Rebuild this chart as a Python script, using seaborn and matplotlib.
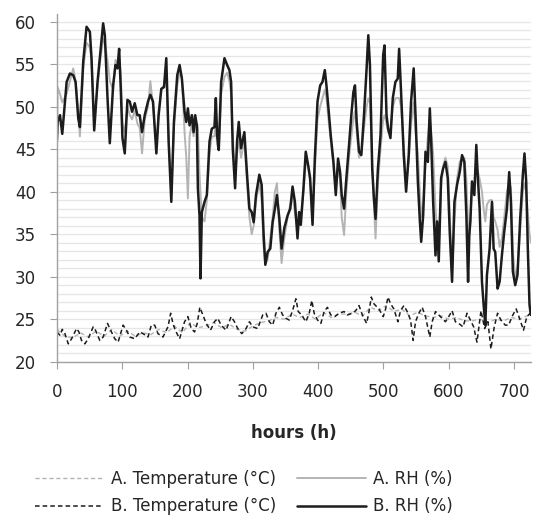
import matplotlib
matplotlib.use("Agg")
import matplotlib.pyplot as plt
from matplotlib.ticker import MultipleLocator
import seaborn as sns
import numpy as np

# B. RH (%) - black solid
rh_b_hours = [0, 1.0, 4.6, 8.1, 14.8, 19.8, 24.9, 28.5, 32.6, 35.1, 40.2, 45.3, 50.4, 52.9, 57.0,
              62.1, 65.6, 70.7, 73.3, 77.4, 80.9, 86.0, 89.6, 92.6, 95.2, 97.7, 100.3, 103.8,
              107.9, 111.5, 115.0, 119.1, 123.2, 126.7, 130.3, 134.4, 139.4, 143.0, 147.1, 152.2,
              155.7, 159.8, 163.9, 167.4, 171.0, 175.1, 179.1, 184.2, 187.8, 191.3, 195.4, 198.0,
              200.5, 203.1, 206.6, 209.2, 211.7, 214.2, 215.8, 218.3, 219.8, 221.9, 226.0, 229.5,
              233.6, 237.1, 241.2, 243.3, 245.3, 247.8, 251.4, 256.5, 260.6, 264.1, 266.7, 269.2,
              272.8, 275.8, 278.4, 281.9, 287.0, 291.1, 294.7, 298.2, 301.3, 304.8, 309.9, 313.5,
              316.5, 319.1, 322.6, 326.7, 330.3, 333.8, 336.9, 340.5, 344.0, 348.1, 353.2, 357.3,
              360.8, 364.4, 368.4, 370.9, 373.4, 377.5, 381.0, 384.7, 387.7, 391.4, 394.9, 399.0,
              403.1, 406.6, 410.2, 412.7, 415.8, 419.3, 423.4, 427.0, 430.5, 433.6, 436.1, 439.7,
              443.2, 447.3, 450.8, 453.9, 456.4, 459.0, 462.6, 466.1, 470.2, 474.2, 476.8, 479.3,
              482.8, 485.4, 487.9, 491.5, 495.5, 499.6, 501.6, 504.7, 507.2, 510.7, 514.3, 518.3,
              521.9, 524.0, 527.0, 531.1, 534.7, 538.7, 542.3, 546.3, 549.1, 552.7, 555.8, 557.8,
              560.8, 564.4, 568.0, 571.0, 573.1, 576.1, 579.7, 582.2, 584.7, 588.3, 591.3, 594.9,
              598.5, 601.5, 605.1, 608.7, 612.7, 616.8, 620.4, 623.9, 627.0, 629.6, 631.5, 633.1,
              635.6, 639.2, 642.2, 644.3, 647.3, 650.9, 653.4, 656.0, 658.5, 662.6, 666.2, 668.7,
              671.2, 674.8, 677.9, 681.4, 685.0, 689.1, 692.6, 695.2, 698.2, 701.8, 705.3, 709.4,
              713.5, 716.0, 718.6, 721.1, 723.7, 725.7]
rh_b = [46.1, 48.2, 49.0, 46.8, 52.9, 53.9, 53.7, 52.9, 48.6, 47.6, 55.3, 59.4, 58.8, 55.7, 47.2,
        52.9, 55.7, 59.8, 58.4, 51.0, 45.7, 52.5, 54.9, 54.5, 56.8, 52.1, 46.3, 44.5,
        50.8, 50.6, 49.4, 50.4, 49.0, 49.0, 47.0, 49.0, 50.6, 51.4, 50.6, 44.5,
        49.0, 52.1, 52.3, 55.7, 45.9, 38.8, 48.2, 53.7, 54.9, 53.3, 49.4, 48.2,
        49.8, 47.8, 49.0, 47.0, 49.0, 47.8, 40.4, 37.2, 29.8, 37.6, 38.8, 39.6,
        45.9, 47.4, 47.6, 51.0, 46.6, 44.9, 52.9, 55.7, 54.9, 54.3, 52.9, 45.1,
        40.4, 45.9, 48.2, 45.1, 47.0, 42.0, 38.0, 37.6, 36.4, 39.6, 42.0, 40.8,
        34.9, 31.4, 32.9, 33.3, 36.4, 38.0, 39.6, 36.9, 33.3, 35.7, 37.2, 38.0,
        40.6, 38.8, 34.5, 37.6, 36.1, 40.4, 44.7, 43.1, 41.6, 36.1, 43.9, 50.6,
        52.5, 52.9, 54.3, 52.5, 49.8, 46.6, 43.5, 39.6, 43.9, 42.3, 39.6, 38.0,
        41.6, 45.5, 49.0, 51.7, 52.5, 48.2, 44.7, 44.3, 49.0, 54.5, 58.4, 54.9,
        42.7, 39.2, 36.8, 42.7, 46.6, 56.1, 57.2, 49.0, 47.4, 46.3, 51.0, 52.9,
        53.3, 56.8, 51.7, 44.3, 40.0, 44.3, 50.6, 54.5, 49.0, 41.2, 36.5, 34.1,
        37.2, 44.7, 43.5, 49.8, 45.9, 38.8, 32.5, 36.5, 31.8, 41.6, 42.7, 43.5,
        41.6, 35.3, 29.4, 38.8, 40.8, 42.3, 44.3, 43.5, 37.2, 29.4, 34.9, 36.5,
        41.2, 39.6, 45.5, 42.0, 38.0, 29.4, 26.7, 24.3, 30.2, 33.3, 38.8, 33.3,
        32.9, 28.6, 29.4, 32.5, 35.3, 38.0, 42.3, 38.8, 30.6, 29.0, 30.2, 36.8,
        42.0, 44.5, 41.2, 33.3, 26.7, 25.5]

# A. RH (%) - grey solid, same time stamps
rh_a = [45.0, 52.3, 51.5, 50.5, 51.5, 53.0, 54.5, 53.0, 49.5, 46.5, 54.5, 57.5, 57.0, 55.5, 48.0,
        52.5, 55.0, 58.0, 57.5, 55.5, 53.0, 52.0, 55.5, 55.0, 55.5, 54.0, 48.0, 47.0,
        50.0, 49.0, 48.5, 49.5, 48.0, 47.5, 44.5, 48.5, 50.0, 53.0, 50.0, 45.5,
        49.5, 52.0, 52.5, 54.0, 46.5, 39.5, 47.5, 52.5, 54.0, 53.5, 47.0, 44.0,
        39.2, 46.5, 48.0, 46.5, 48.0, 48.0, 47.5, 42.0, 40.0, 37.0, 36.5, 39.0,
        44.5, 46.5, 46.5, 48.0, 45.5, 45.0, 51.5, 53.5, 54.0, 53.0, 51.5, 46.5,
        42.0, 44.5, 46.0, 44.0, 46.0, 41.0, 37.0, 35.0, 36.0, 39.0, 41.0, 39.0,
        33.5, 31.5, 32.0, 34.5, 37.0, 40.0, 41.0, 35.5, 31.6, 34.5, 37.0, 38.5,
        39.5, 37.5, 35.5, 36.5, 37.0, 40.0, 43.5, 43.0, 41.0, 37.0, 42.5, 48.5,
        50.0, 51.0, 52.0, 51.0, 48.5, 46.0, 43.0, 40.5, 42.5, 41.5, 37.0, 34.9,
        40.0, 44.0, 46.5, 48.5, 49.5, 47.0, 44.0, 44.5, 47.5, 50.0, 51.0, 50.5,
        43.5, 38.5, 34.5, 41.0, 45.0, 48.5, 49.0, 48.0, 47.0, 47.5, 50.0, 51.0,
        51.0, 51.0, 50.0, 45.5, 41.0, 43.5, 48.0, 50.5, 47.0, 44.5, 40.0, 37.0,
        38.5, 43.0, 46.5, 48.5, 47.0, 44.5, 38.0, 35.5, 33.5, 40.5, 43.0, 44.0,
        43.0, 37.5, 30.5, 36.5, 41.5, 43.5, 44.0, 44.0, 41.5, 36.0, 35.0, 36.5,
        40.5, 41.0, 43.5, 42.5, 41.5, 40.0, 38.0, 36.5, 38.5, 39.0, 39.0, 37.0,
        36.5, 35.5, 33.5, 34.5, 37.0, 40.0, 41.0, 40.5, 33.0, 30.0, 31.0, 35.5,
        40.0, 41.0, 40.0, 37.5, 35.0, 34.0]

# B. Temperature (°C) - black dashed
temp_b_hours = [0, 4.6, 8.1, 12.2, 17.3, 22.4, 30.0, 33.6, 37.6, 42.7, 47.8, 55.5, 59.0, 65.6,
                70.7, 77.4, 80.9, 88.5, 93.6, 101.3, 106.4, 111.5, 119.1, 126.7, 131.8, 139.4,
                144.5, 149.6, 154.7, 162.3, 170.0, 174.1, 177.6, 181.2, 187.8, 195.4, 200.5,
                205.6, 210.7, 214.8, 218.8, 223.4, 228.5, 235.1, 241.2, 246.3, 251.4, 259.0,
                266.7, 271.8, 276.8, 283.0, 289.6, 294.7, 299.8, 307.4, 315.1, 320.1, 325.2,
                330.3, 335.4, 340.5, 345.6, 350.6, 355.7, 360.8, 365.9, 369.5, 374.6, 381.2,
                386.3, 390.3, 393.9, 399.0, 404.1, 409.2, 414.2, 419.3, 425.4, 432.1, 439.7,
                444.8, 452.4, 457.5, 462.6, 467.7, 474.3, 477.9, 481.4, 485.5, 493.1, 499.7,
                503.3, 506.9, 511.0, 516.0, 522.1, 526.2, 531.3, 536.4, 541.5, 545.5, 549.1,
                554.2, 559.3, 564.4, 571.0, 574.6, 579.7, 584.7, 589.8, 594.9, 600.0, 605.1,
                610.2, 615.3, 621.9, 628.0, 633.1, 638.2, 643.2, 649.4, 655.0, 660.0, 664.6,
                669.7, 674.8, 679.9, 686.5, 691.6, 698.2, 703.3, 708.4, 714.5, 719.6, 724.7]
temp_b = [23.5, 23.1, 23.8, 23.3, 22.1, 22.7, 23.9, 23.5, 22.5, 22.1, 22.7, 24.1, 23.7, 22.5,
          22.9, 24.5, 23.9, 22.7, 22.3, 24.3, 23.7, 22.9, 22.7, 23.5, 23.3, 22.9,
          24.3, 24.3, 23.3, 22.9, 24.1, 25.7, 24.5, 23.7, 22.7, 24.7, 25.3,
          23.9, 23.5, 24.5, 26.4, 25.5, 24.5, 23.7, 24.7, 25.1, 24.3, 23.7,
          25.3, 24.7, 23.9, 23.3, 23.9, 24.7, 24.1, 23.9, 25.5, 25.7, 24.7,
          24.3, 25.7, 26.4, 25.5, 25.1, 24.9, 26.0, 27.4, 25.9, 25.5, 24.7,
          25.7, 27.2, 25.7, 24.9, 24.5, 25.9, 26.4, 25.5, 25.3, 25.7, 25.9,
          25.5, 25.7, 26.0, 26.6, 25.5, 24.5, 25.9, 27.6, 26.8, 26.2, 25.3,
          26.2, 27.6, 26.8, 26.2, 24.7, 26.0, 26.6, 25.9, 24.9, 22.5, 24.7,
          25.7, 26.4, 25.3, 22.9, 24.7, 25.9, 25.5, 25.1, 24.7, 25.3, 26.0,
          24.7, 24.5, 24.1, 25.7, 24.9, 24.1, 22.3, 26.0, 23.9, 24.7, 21.5,
          24.1, 25.7, 24.9, 24.3, 24.3, 25.5, 26.2, 25.1, 23.7, 25.3, 25.7]

# A. Temperature (°C) - grey dashed
temp_a_hours = [0, 12, 24, 36, 48, 60, 72, 84, 96, 108, 120, 132, 144, 156, 168, 180, 192, 204,
                216, 228, 240, 252, 264, 276, 288, 300, 312, 324, 336, 348, 360, 372, 384, 396,
                408, 420, 432, 444, 456, 468, 480, 492, 504, 516, 528, 540, 552, 564, 576, 588,
                600, 612, 624, 636, 648, 660, 672, 684, 696, 708, 720, 725]
temp_a = [23.8, 23.0, 22.8, 23.4, 22.9, 23.6, 23.0, 23.8, 23.0, 23.6, 23.0, 23.4, 23.2, 23.8,
          23.4, 24.2, 23.4, 24.6, 24.0, 24.2, 24.6, 24.0, 24.4, 23.8, 23.6, 24.2, 24.6, 24.8,
          25.2, 25.0, 25.6, 25.2, 25.6, 25.0, 25.8, 25.2, 25.6, 25.6, 25.8, 25.4, 26.4, 26.0,
          26.6, 25.9, 26.2, 25.4, 25.8, 25.4, 25.2, 25.4, 25.0, 25.2, 24.8, 24.8, 25.0, 24.6,
          25.0, 24.8, 25.2, 25.0, 25.4, 25.3]

GREY = "#b4b4b4"
BLACK = "#1c1c1c"

sns.set_style("white")
plt.rcParams['font.family'] = ['DejaVu Sans']

fig = plt.figure(figsize=(5.36, 5.22), dpi=100)
ax = fig.add_axes([0.1063, 0.3071, 0.8844, 0.6661])

sns.lineplot(x=temp_a_hours, y=temp_a, ax=ax, color=GREY, linewidth=1.0,
             linestyle=(0, (3, 2)), label="A. Temperature (°C)")
sns.lineplot(x=temp_b_hours, y=temp_b, ax=ax, color=BLACK, linewidth=1.1,
             linestyle=(0, (3, 2)), label="B. Temperature (°C)")
sns.lineplot(x=rh_b_hours, y=rh_a, ax=ax, color=GREY, linewidth=1.4, label="A. RH (%)")
sns.lineplot(x=rh_b_hours, y=rh_b, ax=ax, color=BLACK, linewidth=1.8, label="B. RH (%)")

ax.set_xlim(0, 726)
ax.set_ylim(20, 60.9)
ax.set_xticks(np.arange(0, 701, 100))
ax.set_yticks(np.arange(20, 61, 5))
ax.yaxis.set_minor_locator(MultipleLocator(1))
ax.grid(axis='y', which='both', color='#e6e6e6', linewidth=0.9)
ax.set_axisbelow(True)

for side in ['top', 'right']:
    ax.spines[side].set_visible(False)
for side in ['left', 'bottom']:
    ax.spines[side].set_color('#a0a0a0')
    ax.spines[side].set_linewidth(1.0)

ax.tick_params(axis='x', which='major', direction='out', length=5, color='#a0a0a0',
               labelsize=12, pad=10, bottom=True)
ax.tick_params(axis='y', which='major', direction='out', length=5, color='#a0a0a0',
               labelsize=12, pad=10, left=True)
ax.tick_params(axis='y', which='minor', length=0)

ax.set_xlabel("hours (h)", fontsize=12, fontweight='bold', labelpad=17)
ax.set_ylabel("")

handles, labels = ax.get_legend_handles_labels()
ax.get_legend().remove()
fig.legend(handles, labels, ncol=2, loc='center', bbox_to_anchor=(0.455, 0.056),
           frameon=False, fontsize=12, handlelength=4.1, handletextpad=0.45,
           columnspacing=1.3, labelspacing=0.55)

fig.savefig("out.png", dpi=100)
